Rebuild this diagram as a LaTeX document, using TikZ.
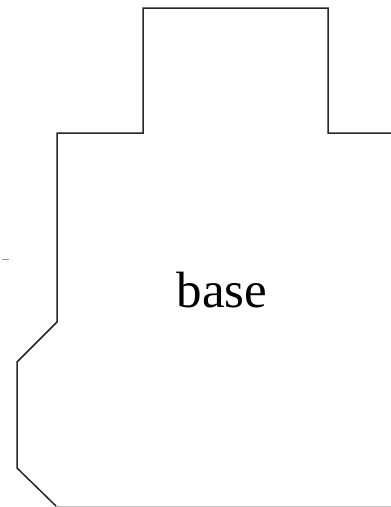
\documentclass[tikz,border=0pt]{standalone}
\usepackage{fontspec}
\setmainfont{Liberation Serif}
\begin{document}
\begin{tikzpicture}[x=1pt,y=-1pt,
  outline/.style={draw=black!85,line width=1.5pt,line join=miter},
  lbl/.style={font=\fontsize{51}{60}\selectfont,inner sep=0pt}]
\useasboundingbox (0,0) rectangle (391,507);
\draw[outline] (391,133) -- (328,133) -- (328,8) -- (143,8) -- (143,133) -- (57,133) -- (57,322) -- (17,362) -- (17,468) -- (56,506);
\draw[draw=black!25,line width=1pt] (56,506) -- (391,506);
\draw[draw=black!40,line width=0.8pt] (2,259) -- (9,259);
\node[lbl] (base) at (222,290) {base};
\end{tikzpicture}
\end{document}
